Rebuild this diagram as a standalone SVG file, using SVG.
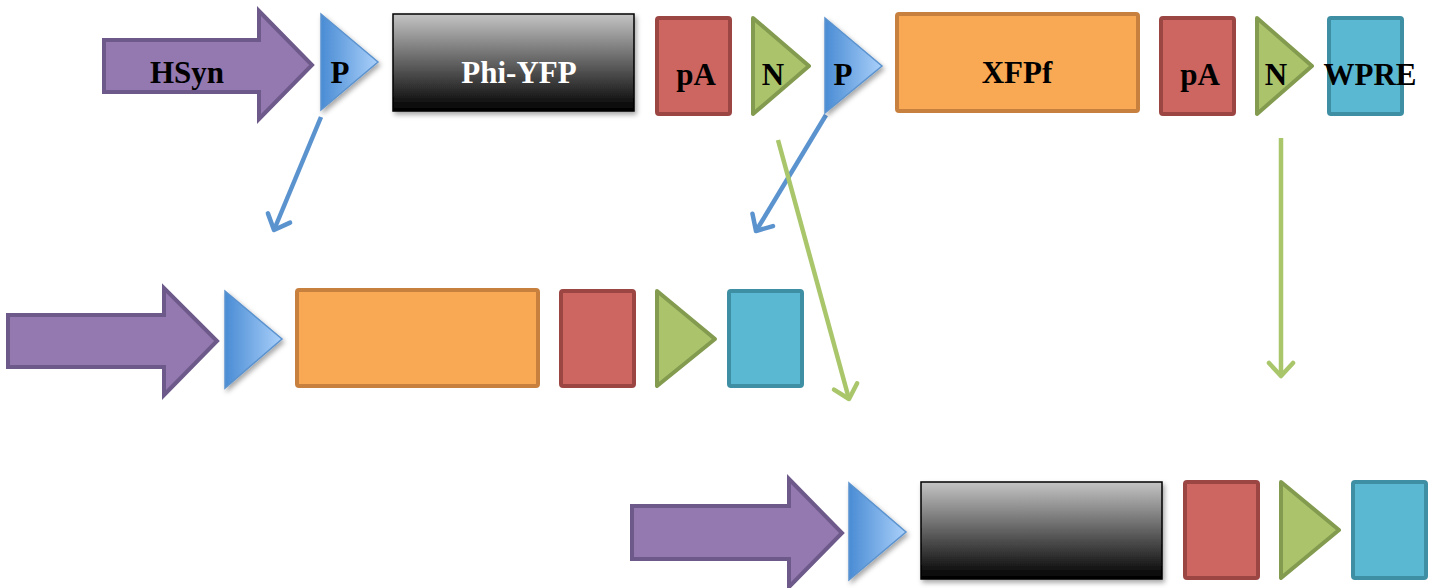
<svg xmlns="http://www.w3.org/2000/svg" width="1435" height="588" viewBox="0 0 1435 588">
<defs>
<linearGradient id="gBlue" x1="0" y1="0" x2="1" y2="0"><stop offset="0" stop-color="#4a8cd4"/><stop offset="1" stop-color="#aad0fa"/></linearGradient>
<linearGradient id="gBlack" x1="0" y1="0" x2="0" y2="1"><stop offset="0" stop-color="#c4c4c4"/><stop offset="1" stop-color="#000"/></linearGradient>
<filter id="sh" x="-20%" y="-20%" width="150%" height="150%"><feDropShadow dx="2" dy="3" stdDeviation="2.5" flood-color="#000" flood-opacity="0.35"/></filter>
<marker id="mBlue" markerUnits="userSpaceOnUse" viewBox="-16 -15 20 30" refX="0" refY="0" markerWidth="20" markerHeight="30" orient="auto"><path d="M-13,-12 L0,0 L-13,12" fill="none" stroke="#5b93cf" stroke-width="4.5" stroke-linecap="round" stroke-linejoin="round"/></marker>
<marker id="mGreen" markerUnits="userSpaceOnUse" viewBox="-16 -15 20 30" refX="0" refY="0" markerWidth="20" markerHeight="30" orient="auto"><path d="M-13,-12 L0,0 L-13,12" fill="none" stroke="#a9c66b" stroke-width="4.5" stroke-linecap="round" stroke-linejoin="round"/></marker>
</defs>
<style>
.prom{fill:#9479b0;stroke:#6d5a8a;stroke-width:4;stroke-linejoin:miter}
.p{fill:url(#gBlue);stroke:#5b93cf;stroke-width:1.5;filter:url(#sh)}
.blk{fill:url(#gBlack);stroke:#000;stroke-width:1.5;filter:url(#sh)}
.org{fill:#f9a854;stroke:#c8803f;stroke-width:4}
.red{fill:#cd6560;stroke:#9c4643;stroke-width:4}
.grn{fill:#abc46c;stroke:#839b4f;stroke-width:4;stroke-linejoin:round}
.cyn{fill:#5bb8d2;stroke:#3e8fa3;stroke-width:4}
.t{font-family:"Liberation Serif",serif;font-weight:bold;font-size:31px;text-anchor:middle;fill:#000}
.w{fill:#fff}
.cb{fill:none;stroke-width:4.5}
</style>

<g id="connectors">
<line class="cb" x1="321" y1="117" x2="274" y2="230" stroke="#5b93cf" marker-end="url(#mBlue)"/>
<line class="cb" x1="826" y1="115" x2="756" y2="231" stroke="#5b93cf" marker-end="url(#mBlue)"/>
<line class="cb" x1="778" y1="140" x2="849" y2="399" stroke="#a9c66b" marker-end="url(#mGreen)"/>
<line class="cb" x1="1281" y1="138" x2="1281" y2="376" stroke="#a9c66b" marker-end="url(#mGreen)"/>
</g>

<g id="top-hsyn"><path class="prom" d="M104,40 H259 V11 L312,65 L259,119 V92 H104 Z"/><text class="t" x="187" y="83">HSyn</text></g>
<g id="top-p1"><path class="p" d="M321,14 L378,62 L321,110 Z"/><text class="t" x="340" y="83">P</text></g>
<g id="top-phiyfp"><rect class="blk" x="393" y="14" width="241" height="97"/><text class="t w" x="519" y="83">Phi-YFP</text></g>
<g id="top-pa1"><rect class="red" x="657" y="18" width="73" height="96" rx="2"/><text class="t" x="696" y="85">pA</text></g>
<g id="top-n1"><path class="grn" d="M753,18 L809,66 L753,114 Z"/><text class="t" x="773" y="85">N</text></g>
<g id="top-p2"><path class="p" d="M825,18 L882,66 L825,113 Z"/><text class="t" x="843" y="85">P</text></g>
<g id="top-xfpf"><rect class="org" x="897" y="14" width="241" height="97" rx="2"/><text class="t" x="1017" y="83">XFPf</text></g>
<g id="top-pa2"><rect class="red" x="1161" y="18" width="73" height="96" rx="2"/><text class="t" x="1200" y="85">pA</text></g>
<g id="top-n2"><path class="grn" d="M1257,18 L1312,66 L1257,114 Z"/><text class="t" x="1276" y="85">N</text></g>
<g id="top-wpre"><rect class="cyn" x="1329" y="18" width="73" height="96" rx="2"/><text class="t" x="1370" y="85">WPRE</text></g>

<g id="mid-prom"><path class="prom" d="M8,315 H164 V288 L217,341 L164,395 V367 H8 Z"/></g>
<g id="mid-p"><path class="p" d="M225,291 L282,339 L225,388 Z"/></g>
<g id="mid-xfp"><rect class="org" x="297" y="290" width="241" height="96" rx="2"/></g>
<g id="mid-pa"><rect class="red" x="561" y="291" width="73" height="95" rx="2"/></g>
<g id="mid-n"><path class="grn" d="M657,291 L715,339 L657,386 Z"/></g>
<g id="mid-wpre"><rect class="cyn" x="729" y="291" width="73" height="95" rx="2"/></g>

<g id="bot-prom"><path class="prom" d="M632,506 H789 V479 L842,533 L789,587 V559 H632 Z"/></g>
<g id="bot-p"><path class="p" d="M849,483 L906,532 L849,580 Z"/></g>
<g id="bot-phi"><rect class="blk" x="921" y="482" width="241" height="97"/></g>
<g id="bot-pa"><rect class="red" x="1185" y="482" width="73" height="96" rx="2"/></g>
<g id="bot-n"><path class="grn" d="M1281,482 L1339,530 L1281,578 Z"/></g>
<g id="bot-wpre"><rect class="cyn" x="1353" y="482" width="73" height="96" rx="2"/></g>
</svg>
